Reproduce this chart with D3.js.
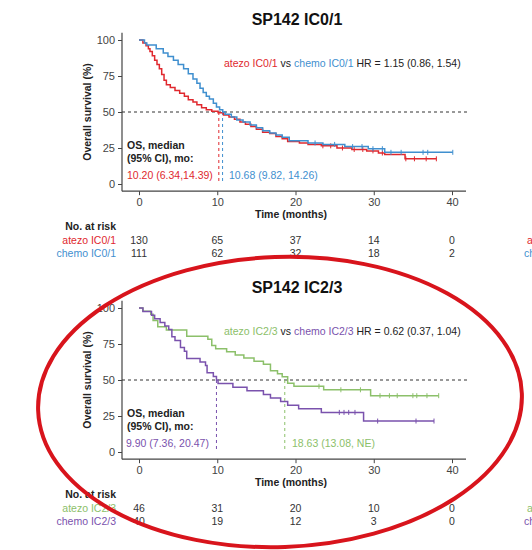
<!DOCTYPE html>
<html>
<head>
<meta charset="utf-8">
<script src="https://cdn.jsdelivr.net/npm/d3@7"></script>
<style>
  body { margin: 0; background: #fff; }
  svg { font-family: "Liberation Sans", Arial, sans-serif; }
</style>
</head>
<body>
<div class="viz"></div>
<script>
// ---- data ----
// top panel, SP142 IC0/1
var atezo01T = [0, 0.5, 0.9, 1.2, 1.4, 1.7, 2.0, 2.3, 2.6, 2.9, 3.2, 3.5, 4.0, 4.6, 5.2, 5.8, 6.3, 6.9, 7.4, 8.0, 8.6, 9.3, 10.1, 10.8, 11.5, 12.2, 12.9, 13.6, 14.3, 15.0, 15.8, 16.7, 17.5, 18.3, 19.0, 20.5, 21.6, 23.3, 25.3, 27.2, 29.1, 30.6, 31.4, 34.0, 38.0]
var atezo01S = [100, 98, 96, 94, 92, 89, 86, 83, 80, 76, 72, 69, 67, 65, 63, 61, 58.5, 57, 55, 53, 51.5, 50.5, 49.5, 48, 46.5, 45, 43, 41.5, 40, 38, 36, 35, 33, 31.5, 29.5, 28.5, 27.5, 26.5, 25, 24, 23, 21.5, 20.5, 17.5, 17.5]
var atezo01Cens = [23.5, 24.5, 26.0, 27.5, 28.6, 29.9, 31.1, 34.1, 35.2, 36.7, 38.0]

var chemo01T = [0, 0.7, 1.0, 2.2, 3.1, 3.7, 4.4, 5.0, 5.7, 6.3, 6.9, 7.4, 7.8, 8.2, 8.6, 9.0, 9.5, 9.9, 10.3, 10.7, 11.0, 11.8, 12.5, 13.3, 14.2, 15.0, 15.8, 16.7, 17.5, 18.3, 19.2, 21.6, 23.5, 26.3, 29.3, 31.4, 40.1]
var chemo01S = [100, 98, 96.5, 94, 91, 88.5, 86, 83, 80, 76.5, 73, 70, 66.5, 63.5, 61, 59, 56, 53.5, 51.5, 50, 48.5, 46.5, 44.5, 43, 41, 39, 37, 35.5, 34, 32.5, 30, 28.5, 27.5, 26, 24.5, 22, 22]
var chemo01Cens = [22.5, 25.0, 27.3, 28.5, 29.9, 31.1, 32.2, 33.5, 36.3, 36.9, 40.1]

// bottom panel, SP142 IC2/3
var atezo23T = [0, 0.5, 1.5, 1.8, 2.4, 3.5, 6.1, 8.8, 9.3, 9.8, 11.2, 12.3, 13.4, 14.7, 15.9, 16.8, 17.7, 18.3, 19.0, 19.8, 23.6, 29.6, 38.3]
var atezo23S = [100, 97.8, 95.7, 91.3, 87, 84.8, 80.4, 78.3, 73.9, 71.7, 69.6, 67.4, 65.2, 63, 60.9, 56.5, 54.3, 52.2, 47.8, 45.6, 43.2, 39.1, 39.1]
var atezo23Cens = [23.0, 25.8, 28.3, 30.8, 32.0, 33.0, 35.0, 35.5, 36.8, 38.3]

var chemo23T = [0, 0.5, 1.6, 2.0, 2.7, 3.3, 3.8, 4.2, 4.6, 5.3, 5.8, 6.1, 7.8, 8.5, 8.7, 9.5, 9.9, 10.1, 12.0, 13.8, 15.9, 16.8, 18.1, 19.0, 20.4, 23.3, 28.7, 37.7]
var chemo23S = [100, 97.5, 95, 92.5, 90, 87.5, 85, 80, 77.5, 72.5, 70, 65, 62.5, 60, 55, 52.5, 50, 47.5, 45, 42.5, 40, 37.5, 35, 32.5, 30, 27.5, 21.5, 21.5]
var chemo23Cens = [25.6, 26.2, 26.8, 27.6, 30.5, 35.4, 37.7]

var xTicks = [0, 10, 20, 30, 40]
var yTicks = [0, 25, 50, 75, 100]
var riskTimes = [0, 10, 20, 30, 40]
var riskAtezo01 = [130, 65, 37, 14, 0]
var riskChemo01 = [111, 62, 32, 18, 2]
var riskAtezo23 = [46, 31, 20, 10, 0]
var riskChemo23 = [40, 19, 12, 3, 0]

var RED = "#e0282e", BLUE = "#3f8fcf", GREEN = "#8cc06a", PURPLE = "#7a52ad"

var svg = d3.select(".viz").append("svg")
  .attr("width", 532).attr("height", 550)

function drawPanel(p) {
  var g = svg.append("g")
  var x = d3.scaleLinear().domain([0, 40]).range([139, 452])
  var y = d3.scaleLinear().domain([0, 100]).range([p.y0, p.y0 - 144])

  //title
  g.append("text").attr("x", 297).attr("y", p.y0 - 159)
    .attr("text-anchor", "middle").attr("font-size", 16).attr("font-weight", "bold")
    .attr("fill", "#111").text(p.title)

  //axes
  var yAx = g.append("g").attr("transform", "translate(122,0)")
    .call(d3.axisLeft(y).tickValues(yTicks).tickSize(4).tickPadding(3))
  var xAx = g.append("g").attr("transform", "translate(0," + y(-5) + ")")
    .call(d3.axisBottom(x).tickValues(xTicks).tickSize(4).tickPadding(3))
  ;[xAx, yAx].forEach(function (a) {
    a.select(".domain").remove()
    a.selectAll("text").attr("font-size", 11).attr("fill", "#444").attr("font-family", null)
    a.selectAll("line").attr("stroke", "#444")
  })
  g.append("line").attr("x1", 122).attr("x2", 122).attr("y1", y(105)).attr("y2", y(-5))
    .attr("stroke", "#444").attr("stroke-width", 1.2)
  g.append("line").attr("x1", 122).attr("x2", 466).attr("y1", y(-5)).attr("y2", y(-5))
    .attr("stroke", "#444").attr("stroke-width", 1.2)

  g.append("text").attr("transform", "translate(91," + y(50) + ") rotate(-90)")
    .attr("text-anchor", "middle").attr("font-size", 10.5).attr("font-weight", "bold")
    .attr("fill", "#222").text("Overall survival (%)")
  g.append("text").attr("x", 291).attr("y", y(-5) + 27)
    .attr("text-anchor", "middle").attr("font-size", 10.5).attr("font-weight", "bold")
    .attr("fill", "#222").text("Time (months)")

  //50% line
  g.append("line").attr("x1", 122).attr("x2", 468).attr("y1", y(50)).attr("y2", y(50))
    .attr("stroke", "#333").attr("stroke-dasharray", "3,3")

  //median lines
  p.series.forEach(function (s) {
    g.append("line").attr("x1", x(s.median)).attr("x2", x(s.median))
      .attr("y1", y(50)).attr("y2", y(0))
      .attr("stroke", s.color).attr("stroke-dasharray", "3,3")
  })

  var line = d3.line().x(function (d) { return x(d[0]) }).y(function (d) { return y(d[1]) })
    .curve(d3.curveStepAfter)

  p.series.forEach(function (s) {
    var pts = d3.zip(s.t, s.s)
    g.append("path").datum(pts).attr("d", line)
      .attr("fill", "none").attr("stroke", s.color).attr("stroke-width", 1.5)

    //censor ticks
    var step = function (t) {
      var i = d3.bisectRight(s.t, t) - 1
      return s.s[Math.max(0, i)]
    }
    g.append("g").selectAll("line").data(s.cens).enter().append("line")
      .attr("x1", function (d) { return x(d) }).attr("x2", function (d) { return x(d) })
      .attr("y1", function (d) { return y(step(d)) - 2.5 })
      .attr("y2", function (d) { return y(step(d)) + 2.5 })
      .attr("stroke", s.color).attr("stroke-width", 1)
  })

  //HR label
  var hr = g.append("text").attr("x", 224).attr("y", p.y0 - 117).attr("font-size", 10.5)
  hr.append("tspan").attr("fill", p.series[0].color).text(p.series[0].name)
  hr.append("tspan").attr("fill", "#222").text(" vs ")
  hr.append("tspan").attr("fill", p.series[1].color).text(p.series[1].name)
  hr.append("tspan").attr("fill", "#222").text(" HR = " + p.hr)

  g.append("text").attr("x", 127).attr("y", p.y0 - 35).attr("font-size", 10.5)
    .attr("font-weight", "bold").attr("fill", "#222").text("OS, median")
  g.append("text").attr("x", 127).attr("y", p.y0 - 22).attr("font-size", 10.5)
    .attr("font-weight", "bold").attr("fill", "#222").text("(95% CI), mo:")
  p.medLabels.forEach(function (m) {
    g.append("text").attr("x", m.x).attr("y", p.y0 - 5).attr("font-size", 10.5)
      .attr("fill", m.color).text(m.text)
  })

  //risk table
  var rt = p.y0 + 46
  g.append("text").attr("x", 116).attr("y", rt).attr("text-anchor", "end")
    .attr("font-size", 10.5).attr("font-weight", "bold").attr("fill", "#222").text("No. at risk")
  p.series.forEach(function (s, k) {
    var ry = rt + 14 + k * 13
    g.append("text").attr("x", 116).attr("y", ry).attr("text-anchor", "end")
      .attr("font-size", 10.5).attr("fill", s.color).text(s.name)
    // neighbouring panel's labels, only their first letter shows at the edge
    g.append("text").attr("x", s.edgeX).attr("y", ry)
      .attr("font-size", 10.5).attr("fill", s.color).text(s.name)
    g.append("g").selectAll("text").data(s.risk).enter().append("text")
      .attr("x", function (d, i) { return x(riskTimes[i]) })
      .attr("y", ry).attr("text-anchor", "middle").attr("font-size", 10.5)
      .attr("fill", "#333").text(function (d) { return d })
  })
}

drawPanel({
  title: "SP142 IC0/1", y0: 184, hr: "1.15 (0.86, 1.54)",
  series: [
    { name: "atezo IC0/1", color: RED, t: atezo01T, s: atezo01S, cens: atezo01Cens, median: 10.20, risk: riskAtezo01, edgeX: 527 },
    { name: "chemo IC0/1", color: BLUE, t: chemo01T, s: chemo01S, cens: chemo01Cens, median: 10.68, risk: riskChemo01, edgeX: 524 }
  ],
  medLabels: [
    { x: 127, color: RED, text: "10.20 (6.34,14.39)" },
    { x: 229, color: BLUE, text: "10.68 (9.82, 14.26)" }
  ]
})

drawPanel({
  title: "SP142 IC2/3", y0: 452, hr: "0.62 (0.37, 1.04)",
  series: [
    { name: "atezo IC2/3", color: GREEN, t: atezo23T, s: atezo23S, cens: atezo23Cens, median: 18.63, risk: riskAtezo23, edgeX: 527 },
    { name: "chemo IC2/3", color: PURPLE, t: chemo23T, s: chemo23S, cens: chemo23Cens, median: 9.90, risk: riskChemo23, edgeX: 524 }
  ],
  medLabels: [
    { x: 126, color: PURPLE, text: "9.90 (7.36, 20.47)" },
    { x: 292, color: GREEN, text: "18.63 (13.08, NE)" }
  ]
})

//hand drawn highlight round the second panel
svg.append("ellipse").attr("cx", 280).attr("cy", 402).attr("rx", 242).attr("ry", 145)
  .attr("transform", "rotate(-2,280,402)")
  .attr("fill", "none").attr("stroke", "#d8141c").attr("stroke-width", 4)
</script>
</body>
</html>
